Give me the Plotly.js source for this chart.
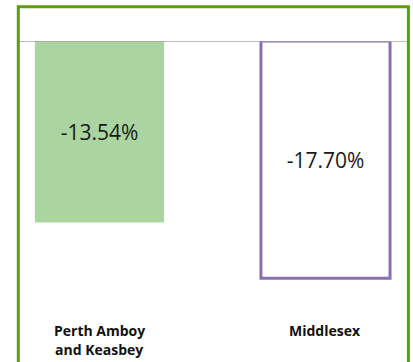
<!DOCTYPE html>
<html>
<head>
<meta charset="utf-8">
<script src="https://cdn.plot.ly/plotly-3.0.1.min.js"></script>
<style>
  html, body { margin: 0; padding: 0; background: #ffffff; }
  #chart { width: 413px; height: 362px; }
</style>
</head>
<body>
<div id="chart"></div>
<script>
// Percentage change by area
const categories = ["Perth Amboy<br>and Keasbey", "Middlesex"];
const changePct = [-13.54, -17.70];
const fillColors = ["#abd5a0", "#ffffff"];
const outlineColors = ["#abd5a0", "#8b6fae"];
const outlineWidths = [0, 3];

const xIdx = categories.map((_, i) => i);

const trace = {
  type: "bar",
  x: xIdx,
  y: changePct,
  width: 0.571,
  marker: {
    color: fillColors,
    line: { color: outlineColors, width: outlineWidths }
  },
  texttemplate: "%{y:.2f}%",
  textposition: "inside",
  insidetextanchor: "middle",
  textangle: 0,
  constraintext: "none",
  textfont: { family: "Open Sans, sans-serif", size: 21, color: "#1a1a1a" },
  hoverinfo: "skip"
};

// Category labels, one annotation per text line, hanging below the plot
const labelAnnotations = [];
categories.forEach((label, i) => {
  label.split("<br>").forEach((line, j) => {
    labelAnnotations.push({
      x: i, xref: "x",
      y: 0, yref: "paper",
      yanchor: "middle",
      yshift: -21 - 19 * j,
      text: "<b>" + line + "</b>",
      showarrow: false,
      font: { family: "Open Sans, sans-serif", size: 14, color: "#111111" }
    });
  });
});

const layout = {
  width: 413,
  height: 362,
  margin: { l: 19, r: 6, t: 41, b: 53, pad: 0 },
  paper_bgcolor: "#ffffff",
  plot_bgcolor: "#ffffff",
  showlegend: false,
  xaxis: {
    range: [-0.356, 1.3606],
    showticklabels: false,
    showgrid: false,
    zeroline: false,
    showline: false,
    ticks: "",
    fixedrange: true
  },
  yaxis: {
    range: [-20, 0],
    showticklabels: false,
    showgrid: false,
    zeroline: false,
    showline: false,
    ticks: "",
    fixedrange: true
  },
  shapes: [
    // baseline at zero
    { type: "line", xref: "paper", yref: "y", x0: 0, x1: 1, y0: 0, y1: 0,
      line: { color: "#a6a6a6", width: 1.5 }, layer: "above" },
    // outer frame
    { type: "rect", xref: "paper", yref: "paper",
      x0: -0.0018, x1: 1.0036, y0: -0.25, y1: 1.1276,
      line: { color: "#5e9c0c", width: 3 }, fillcolor: "rgba(0,0,0,0)", layer: "above" }
  ],
  annotations: labelAnnotations
};

Plotly.newPlot("chart", [trace], layout, { displayModeBar: false, staticPlot: true });
</script>
</body>
</html>
